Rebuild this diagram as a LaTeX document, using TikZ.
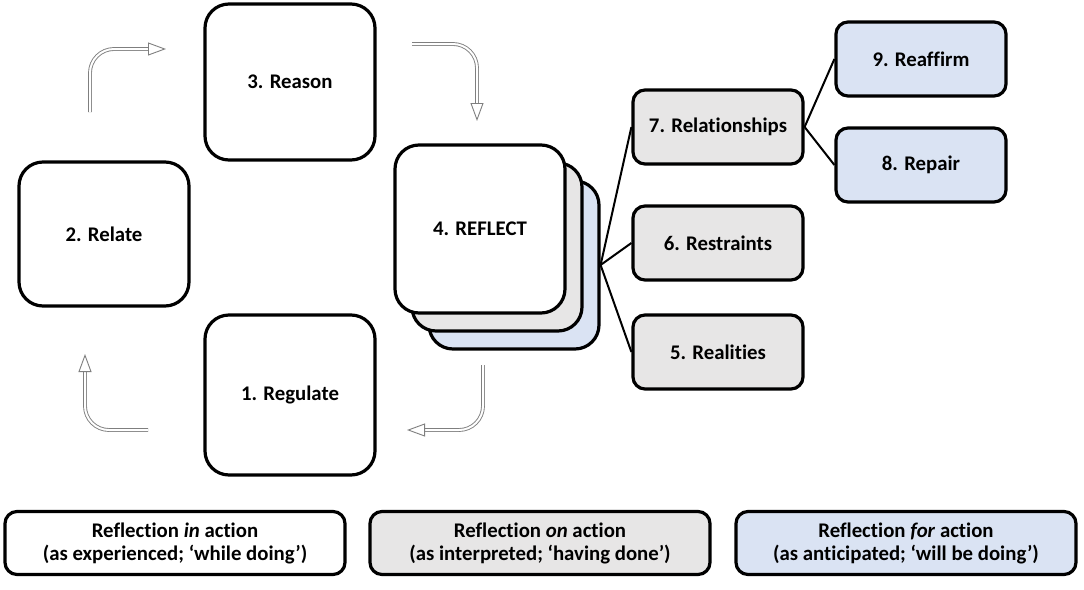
\documentclass[tikz,border=0pt]{standalone}
\usepackage{fontspec}
\setmainfont[Ligatures=NoCommon]{Carlito}
\usetikzlibrary{arrows.meta}
\definecolor{ink}{HTML}{000000}
\definecolor{pale}{HTML}{E7E6E6}
\definecolor{sky}{HTML}{DAE3F3}
\definecolor{pipe}{HTML}{7F7F7F}

\begin{document}
\begin{tikzpicture}[x=0.5pt,y=-0.5pt,
  bigbox/.style={draw=ink,line width=1.6pt,rounded corners=12pt,fill=white,
    minimum width=85pt,minimum height=78pt,inner sep=0pt,
    font=\bfseries\fontsize{10.4}{12.5}\selectfont},
  smallbox/.style={draw=ink,line width=1.6pt,rounded corners=6pt,fill=pale,
    minimum width=85pt,minimum height=37pt,inner sep=0pt,
    font=\bfseries\fontsize{10.4}{12.5}\selectfont},
  keybox/.style={draw=ink,line width=1.6pt,rounded corners=6pt,
    minimum width=170pt,minimum height=31.5pt,inner sep=0pt,align=center,
    font=\bfseries\fontsize{10.4}{11.5}\selectfont},
  branch/.style={draw=ink,line width=1pt},
  bentarrow/.style={draw=pipe,line width=0.45pt,double=white,double distance=1pt,
    rounded corners=12pt,-{Triangle[open,fill=white,length=9pt,width=6.5pt]}}
]

  \useasboundingbox (0,0) rectangle (1084,590);

  % ---------------------------------------------------------------- CYCLE
  \node[bigbox,minimum height=72pt] (relate)   at (104,234) {2. Relate};
  \node[bigbox] (reason)   at (290,82)  {3. Reason};
  \node[bigbox,minimum height=80pt] (regulate) at (290,395) {1. Regulate};

  % stacked reflect cards, back to front
  \node[bigbox,fill=sky,minimum height=84pt]  (reflectfor) at (514,265) {};
  \node[bigbox,fill=pale,minimum height=84pt] (reflecton)  at (497,247) {};
  \node[bigbox,minimum height=84pt]           (reflect)    at (480,229) {4. REFLECT};

  % ---------------------------------------------------------------- BENT ARROWS
  \draw[bentarrow] (90,112) |- (166,49);
  \draw[bentarrow] (412,44) -| (477,121);
  \draw[bentarrow] (483,365) |- (407,430);
  \draw[bentarrow] (148,430) -| (85,354);

  % ---------------------------------------------------------------- BRANCHES
  \node[smallbox] (relationships) at (718,127) {7. Relationships};
  \node[smallbox] (restraints)    at (718,243) {6. Restraints};
  \node[smallbox] (realities)     at (718,352) {5. Realities};
  \node[smallbox,fill=sky] (reaffirm) at (921,59)  {9. Reaffirm};
  \node[smallbox,fill=sky] (repair)   at (921,165) {8. Repair};

  \coordinate (hub) at (reflectfor.east);
  \draw[branch] (hub) -- (relationships.west);
  \draw[branch] (hub) -- (restraints.west);
  \draw[branch] (hub) -- (realities.west);
  \draw[branch] (relationships.east) -- (reaffirm.west);
  \draw[branch] (relationships.east) -- (repair.west);

  % ---------------------------------------------------------------- KEY
  \node[keybox,fill=white] (keyin)  at (175,543)
    {Reflection \textit{in} action\\(as experienced; ‘while doing’)};
  \node[keybox,fill=pale]  (keyon)  at (540,543)
    {Reflection \textit{on} action\\(as interpreted; ‘having done’)};
  \node[keybox,fill=sky]   (keyfor) at (906,543)
    {Reflection \textit{for} action\\(as anticipated; ‘will be doing’)};

\end{tikzpicture}
\end{document}
